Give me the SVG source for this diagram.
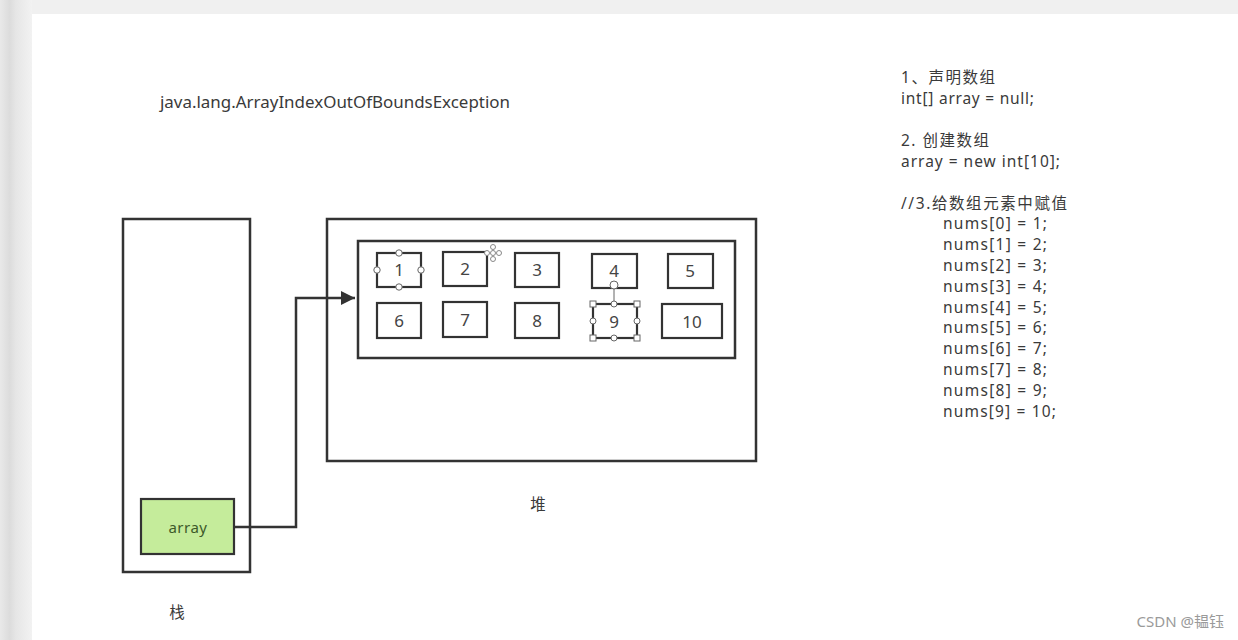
<svg xmlns="http://www.w3.org/2000/svg" width="1238" height="640" viewBox="0 0 1238 640">
<defs>
<linearGradient id="lg" x1="0" y1="0" x2="1" y2="0">
<stop offset="0" stop-color="#e9e9e9"/>
<stop offset="0.3" stop-color="#dcdcdc"/>
<stop offset="0.5" stop-color="#e6e6e6"/>
<stop offset="1" stop-color="#f2f2f2"/>
</linearGradient>
<marker id="arr" viewBox="0 0 10 10" refX="10" refY="5" markerWidth="20" markerHeight="14" markerUnits="userSpaceOnUse" orient="auto">
<path d="M0,0 L10,5 L0,10 z" fill="#333"/>
</marker>
<style>
.box{fill:none;stroke:#333;stroke-width:2.5}
.cell{fill:#fff;stroke:#333;stroke-width:2.2}
.num{font-family:"Noto Sans","Liberation Sans",sans-serif;font-size:17px;fill:#444;text-anchor:middle}
.t{font-family:"Noto Sans","Noto Sans CJK SC",sans-serif;font-size:15.5px;fill:#3a3a3a}
.h{fill:#fff;stroke:#666;stroke-width:1}
.conn{fill:none;stroke:#333;stroke-width:2.5}
</style>
</defs>
<rect x="0" y="0" width="1238" height="640" fill="#f0f0f0"/>
<rect x="0" y="0" width="32" height="640" fill="url(#lg)"/>
<rect x="32" y="14" width="1206" height="626" fill="#fff"/>

<text class="t" x="160" y="108" textLength="350" lengthAdjust="spacingAndGlyphs">java.lang.ArrayIndexOutOfBoundsException</text>

<g id="stack">
<rect class="box" x="123" y="219" width="127" height="353"/>
<text class="t" x="177" y="618" text-anchor="middle">栈</text>
</g>

<g id="array">
<rect x="141" y="499" width="93" height="55" fill="#c5ec9b" stroke="#333" stroke-width="2.2"/>
<text x="188" y="533" text-anchor="middle" font-family="'Noto Sans','Liberation Sans',sans-serif" font-size="15" letter-spacing="0.5" fill="#3d5a2a">array</text>
</g>

<g id="heap">
<rect class="box" x="327" y="219" width="429" height="242"/>
<rect class="box" x="358" y="241" width="377" height="117"/>
<text class="t" x="538" y="510" text-anchor="middle">堆</text>
</g>

<g id="cell1"><rect class="cell" x="377" y="253" width="44" height="34"/><text class="num" x="399" y="276">1</text></g>
<g id="cell2"><rect class="cell" x="443" y="252" width="44" height="34"/><text class="num" x="465" y="275">2</text></g>
<g id="cell3"><rect class="cell" x="515" y="253" width="44" height="34"/><text class="num" x="537" y="276">3</text></g>
<g id="cell4"><rect class="cell" x="592" y="254" width="45" height="34"/><text class="num" x="614" y="277">4</text></g>
<g id="cell5"><rect class="cell" x="668" y="254" width="45" height="34"/><text class="num" x="690" y="277">5</text></g>
<g id="cell6"><rect class="cell" x="377" y="303" width="44" height="35"/><text class="num" x="399" y="327">6</text></g>
<g id="cell7"><rect class="cell" x="443" y="302" width="44" height="35"/><text class="num" x="465" y="326">7</text></g>
<g id="cell8"><rect class="cell" x="515" y="303" width="44" height="35"/><text class="num" x="537" y="327">8</text></g>
<g id="cell9"><rect class="cell" x="593" y="304" width="44" height="34"/><text class="num" x="614" y="328">9</text></g>
<g id="cell10"><rect class="cell" x="662" y="304" width="60" height="34"/><text class="num" x="692" y="328">10</text></g>

<g id="handles">
<circle class="h" cx="399" cy="253" r="3.2"/>
<circle class="h" cx="399" cy="287" r="3.2"/>
<circle class="h" cx="377" cy="270" r="3.2"/>
<circle class="h" cx="421" cy="270" r="3.2"/>
<line x1="614" y1="288" x2="614" y2="304" stroke="#666" stroke-width="1"/>
<circle class="h" cx="614" cy="285" r="4"/>
<rect class="h" x="590" y="301" width="6" height="6"/>
<rect class="h" x="634" y="301" width="6" height="6"/>
<rect class="h" x="590" y="335" width="6" height="6"/>
<rect class="h" x="634" y="335" width="6" height="6"/>
<circle class="h" cx="614" cy="304" r="3"/>
<circle class="h" cx="614" cy="338" r="3"/>
<circle class="h" cx="593" cy="321" r="3"/>
<circle class="h" cx="637" cy="321" r="3"/>
<g fill="#fff" stroke="#888" stroke-width="1">
<circle cx="493" cy="247" r="2.5"/>
<circle cx="493" cy="259" r="2.5"/>
<circle cx="487" cy="253" r="2.5"/>
<circle cx="499" cy="253" r="2.5"/>
<circle cx="493" cy="253" r="2.5"/>
</g>
</g>

<g id="connectors">
<polyline class="conn" points="234,527 296,527 296,298 355,298" marker-end="url(#arr)"/>
</g>

<g id="code" class="t">
<text x="901" y="83" textLength="94" lengthAdjust="spacing">1、声明数组</text>
<text x="901" y="104" textLength="133" lengthAdjust="spacing">int[] array = null;</text>
<text x="901" y="146" textLength="88" lengthAdjust="spacing">2. 创建数组</text>
<text x="901" y="167" textLength="159" lengthAdjust="spacing">array = new int[10];</text>
<text x="901" y="209" textLength="166" lengthAdjust="spacing">//3.给数组元素中赋值</text>
<text x="943" y="229" textLength="104" lengthAdjust="spacing">nums[0] = 1;</text>
<text x="943" y="250" textLength="104" lengthAdjust="spacing">nums[1] = 2;</text>
<text x="943" y="271" textLength="104" lengthAdjust="spacing">nums[2] = 3;</text>
<text x="943" y="292" textLength="104" lengthAdjust="spacing">nums[3] = 4;</text>
<text x="943" y="313" textLength="104" lengthAdjust="spacing">nums[4] = 5;</text>
<text x="943" y="333" textLength="104" lengthAdjust="spacing">nums[5] = 6;</text>
<text x="943" y="354" textLength="104" lengthAdjust="spacing">nums[6] = 7;</text>
<text x="943" y="375" textLength="104" lengthAdjust="spacing">nums[7] = 8;</text>
<text x="943" y="396" textLength="104" lengthAdjust="spacing">nums[8] = 9;</text>
<text x="943" y="417" textLength="113" lengthAdjust="spacing">nums[9] = 10;</text>
</g>

<text x="1224" y="627" text-anchor="end" font-family="'Noto Sans','Noto Sans CJK SC',sans-serif" font-size="15" fill="#9a9a9a">CSDN @韫钰</text>
</svg>
